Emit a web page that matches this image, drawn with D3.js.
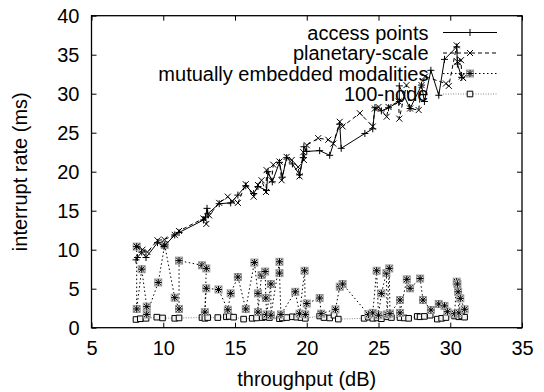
<!DOCTYPE html>
<html><head><meta charset="utf-8">
<script src="https://cdn.jsdelivr.net/npm/d3@7/dist/d3.min.js"></script>
<style>
body{margin:0;background:#fff}
text{font-family:"Liberation Sans",Arial,Helvetica,sans-serif;font-size:20px;fill:#000}
</style>
</head><body>
<svg id="chart" width="544" height="392"></svg>
<script>
// ---- data ----
const xTicks = [5, 10, 15, 20, 25, 30, 35];
const yTicks = [0, 5, 10, 15, 20, 25, 30, 35, 40];
const xTitle = "throughput (dB)";
const yTitle = "interrupt rate (ms)";
const seriesNames = ["access points", "planetary-scale", "mutually embedded modalities", "100-node"];

const accessPoints = [[8.1,8.7],[8.2,9.0],[8.5,9.7],[8.8,9.0],[9.6,10.9],[10.05,10.4],[10.8,11.9],[11.1,12.2],[12.8,13.8],[12.95,14.2],[13.05,15.3],[13.1,14.6],[13.9,15.9],[14.7,16.0],[15.2,17.0],[15.75,18.2],[16.3,17.2],[16.6,18.1],[17.2,17.6],[17.3,20.0],[17.6,18.7],[18.1,21.2],[18.3,19.3],[18.6,21.8],[19.0,21.0],[19.5,19.6],[19.75,21.8],[19.8,23.2],[20.0,22.6],[20.9,22.7],[21.6,22.1],[22.3,26.1],[22.4,23.0],[24.05,24.9],[24.6,25.5],[24.75,28.2],[25.2,27.8],[25.7,28.2],[26.45,29.0],[26.45,31.0],[27.2,28.1],[28.0,31.1],[28.2,29.0],[28.65,33.0],[29.2,29.8],[29.6,34.4],[30.45,36.0],[30.5,33.8],[30.8,32.1]];

const planetaryScale = [[8.15,10.4],[8.55,10.0],[8.9,9.7],[9.6,11.2],[10.07,11.3],[10.8,11.9],[11.1,12.4],[12.8,14.0],[13.0,13.3],[13.2,14.4],[13.9,16.0],[14.5,16.8],[14.8,16.2],[15.2,16.0],[15.75,18.4],[16.3,16.8],[16.6,18.3],[16.85,18.9],[17.16,17.4],[17.2,20.2],[17.55,18.9],[17.67,20.9],[18.1,21.3],[18.25,18.9],[18.6,21.9],[18.95,21.5],[19.4,20.6],[19.5,19.4],[19.76,22.5],[19.8,21.5],[20.0,23.4],[20.8,24.3],[21.5,24.1],[21.85,23.6],[22.3,26.4],[22.5,25.8],[23.7,27.5],[24.6,25.8],[24.75,28.1],[25.0,28.3],[25.57,27.05],[25.7,28.3],[26.4,29.0],[26.45,26.8],[26.95,31.1],[27.2,28.1],[27.8,27.9],[28.0,31.1],[28.24,32.2],[29.7,31.3],[29.9,31.0],[30.45,36.2],[30.5,34.1],[30.75,34.3],[30.8,32.2],[30.9,32.0]];

const embeddedModalities = [[8.15,10.4],[8.15,2.4],[8.5,7.5],[8.85,2.7],[8.85,1.7],[9.65,5.8],[10.1,10.6],[10.8,3.85],[11.1,2.4],[11.1,8.6],[12.7,8.0],[13.0,7.6],[12.9,2.0],[13.0,5.05],[13.85,4.9],[14.5,2.3],[14.7,4.4],[15.2,6.5],[15.75,2.4],[16.35,8.35],[16.6,4.4],[16.6,2.0],[16.85,6.75],[17.1,7.2],[17.15,3.8],[17.2,1.7],[17.5,5.6],[17.5,1.6],[18.1,8.45],[18.1,7.0],[18.2,1.7],[19.2,4.6],[19.5,1.8],[19.85,7.3],[19.9,1.7],[20.0,3.1],[20.9,3.8],[21.0,1.8],[22.0,2.35],[22.3,5.25],[22.5,5.6],[24.3,1.7],[24.6,1.9],[24.87,7.3],[25.0,1.6],[25.2,4.4],[25.55,7.0],[25.6,1.7],[25.75,7.6],[25.8,1.8],[26.5,3.55],[26.5,1.9],[26.97,6.2],[27.2,5.05],[27.9,6.3],[28.1,3.55],[28.65,2.27],[29.2,3.04],[29.6,2.8],[29.8,2.05],[30.3,1.8],[30.45,5.9],[30.5,5.6],[30.55,4.6],[30.6,1.9],[30.7,3.76],[31.0,2.36]];

const hundredNode = [[8.1,1.05],[8.4,1.15],[8.8,1.2],[9.55,1.35],[9.95,1.25],[10.8,1.2],[11.1,1.25],[12.7,1.3],[12.9,1.2],[13.1,1.3],[13.8,1.3],[14.4,1.4],[14.6,1.45],[14.9,1.35],[15.6,1.1],[16.2,1.2],[16.5,1.25],[16.9,1.3],[17.1,1.4],[17.4,1.3],[18.1,1.15],[18.3,1.25],[18.6,1.3],[19.0,1.4],[19.3,1.35],[19.6,1.3],[19.9,1.2],[20.9,1.5],[21.2,1.3],[21.6,1.25],[21.9,1.6],[22.2,1.1],[24.0,1.2],[24.3,1.35],[24.6,1.2],[24.9,1.25],[25.2,1.15],[25.6,1.4],[25.9,1.3],[26.5,1.3],[26.8,1.25],[27.1,1.2],[27.7,1.45],[27.9,1.4],[28.2,1.45],[28.6,1.6],[29.1,1.1],[29.4,1.2],[29.7,1.3],[30.3,1.5],[30.6,1.4],[30.8,1.5],[31.0,1.35]];

// ---- drawing ----
const svg = d3.select("#chart");
const L = 91.5, R = 522, T = 15.7, B = 327.7;
const x = d3.scaleLinear().domain([5, 35]).range([L, R]);
const y = d3.scaleLinear().domain([0, 40]).range([B, T]);

function styleAxis(g) {
  g.select(".domain").remove();
  g.selectAll(".tick line").attr("stroke", "#000").attr("stroke-width", 1);
  g.selectAll("text").attr("fill", "#000").style("font-size", "20px").attr("font-family", null);
}
svg.append("g").attr("transform", `translate(0,${B})`)
  .call(d3.axisBottom(x).tickValues(xTicks).tickSizeInner(-5).tickSizeOuter(0).tickPadding(13)).call(styleAxis);
svg.append("g").attr("transform", `translate(0,${T})`)
  .call(d3.axisTop(x).tickValues(xTicks).tickSizeInner(-5).tickSizeOuter(0).tickFormat("")).call(styleAxis);
svg.append("g").attr("transform", `translate(${L},0)`)
  .call(d3.axisLeft(y).tickValues(yTicks).tickSizeInner(-5).tickSizeOuter(0).tickPadding(12)).call(styleAxis);
svg.append("g").attr("transform", `translate(${R},0)`)
  .call(d3.axisRight(y).tickValues(yTicks).tickSizeInner(-5).tickSizeOuter(0).tickFormat("")).call(styleAxis);

svg.append("rect").attr("x", L).attr("y", T).attr("width", R - L).attr("height", B - T)
  .attr("fill", "none").attr("stroke", "#000").attr("stroke-width", 1.3);

svg.append("text").attr("x", (L + R) / 2).attr("y", 386).attr("text-anchor", "middle").text(xTitle);
svg.append("text").attr("transform", `translate(27,${(T + B) / 2}) rotate(-90)`).attr("text-anchor", "middle").text(yTitle);

const line = d3.line().x(d => x(d[0])).y(d => y(d[1]));

const markers = {
  plus: "M-3.5,0H3.5M0,-3.5V3.5",
  cross: "M-3,-3L3,3M-3,3L3,-3",
  star: "M-3.5,0H3.5M0,-3.5V3.5M-2.7,-2.7L2.7,2.7M-2.7,2.7L2.7,-2.7",
  square: "M-2.8,-2.8H2.8V2.8H-2.8Z"
};

const series = [
  {name: seriesNames[0], data: accessPoints, dash: null, color: "#000", marker: "plus"},
  {name: seriesNames[1], data: planetaryScale, dash: "4,3", color: "#000", marker: "cross"},
  {name: seriesNames[2], data: embeddedModalities, dash: "1.5,2.5", color: "#000", marker: "star"},
  {name: seriesNames[3], data: hundredNode, dash: "1,1.5", color: "#888", marker: "square"}
];

function drawMarker(sel, kind) {
  if (kind === "star") {
    sel.append("rect").attr("x", -3.5).attr("y", -3.5).attr("width", 7).attr("height", 7)
      .attr("fill", "#ddd").attr("stroke", "#999").attr("stroke-width", 1);
  }
  sel.append("path").attr("d", markers[kind])
    .attr("fill", kind === "square" ? "#f4f4f4" : "none")
    .attr("stroke", "#000").attr("stroke-width", 1);
}

const plot = svg.append("g");
series.slice().reverse().forEach(s => {
  const g = plot.append("g");
  g.append("path").datum(s.data).attr("d", line).attr("fill", "none")
    .attr("stroke", s.color).attr("stroke-width", 1).attr("stroke-dasharray", s.dash);
  g.selectAll("g.m").data(s.data).enter().append("g").attr("class", "m")
    .attr("transform", d => `translate(${x(d[0])},${y(d[1])})`)
    .each(function () { drawMarker(d3.select(this), s.marker); });
});

// legend
const leg = svg.append("g");
series.forEach((s, i) => {
  const ly = 32.5 + i * 20.5;
  leg.append("text").attr("x", 428.5).attr("y", ly + 7).attr("text-anchor", "end").text(s.name);
  leg.append("line").attr("x1", 443).attr("x2", 497).attr("y1", ly).attr("y2", ly)
    .attr("stroke", s.color).attr("stroke-width", 1).attr("stroke-dasharray", s.dash);
  const mg = leg.append("g").attr("transform", `translate(470,${ly})`);
  drawMarker(mg, s.marker);
});
</script>
</body></html>
